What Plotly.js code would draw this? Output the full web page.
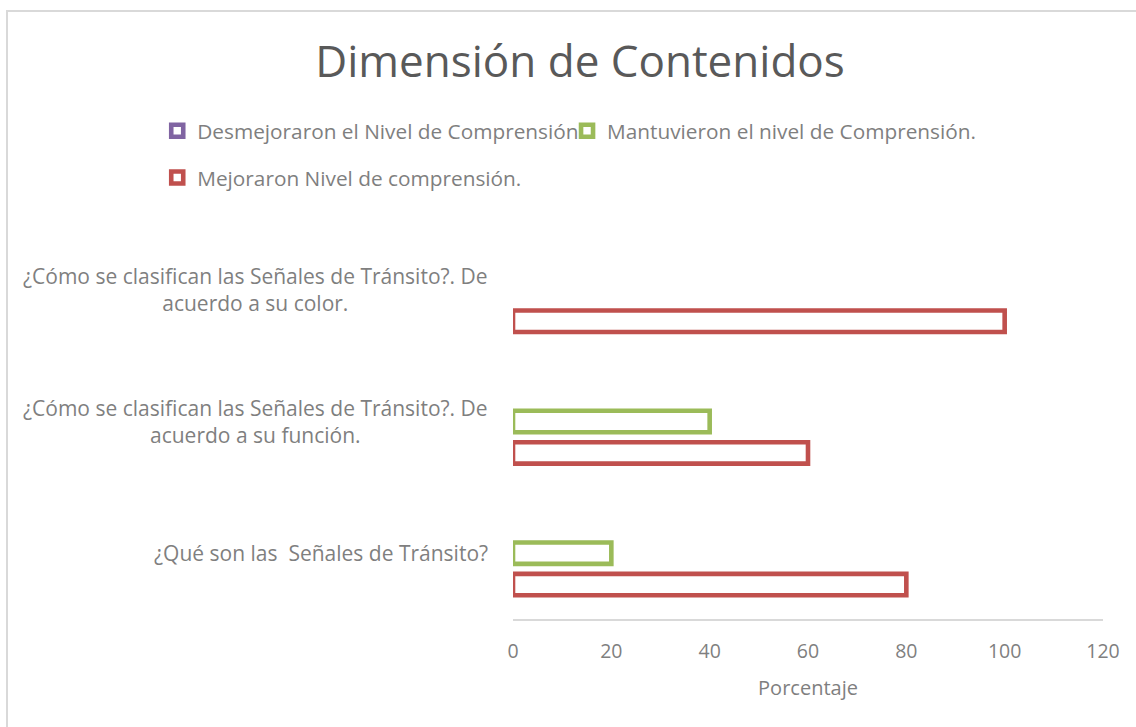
<!DOCTYPE html>
<html>
<head>
<meta charset="utf-8">
<script src="https://cdn.plot.ly/plotly-3.0.1.min.js"></script>
<style>
  html, body { margin: 0; padding: 0; background: #ffffff; }
  #chart { position: absolute; left: 0; top: 0; width: 1136px; height: 727px; }
  #frame { position: absolute; left: 6px; top: 10px; width: 1200px; height: 800px;
           border: 2px solid #d9d9d9; pointer-events: none; box-sizing: border-box; }
</style>
</head>
<body>
<div id="chart"></div>
<div id="frame"></div>
<script>
// ---- data ----
const categories = [
  "¿Qué son las  Señales de Tránsito?",
  "¿Cómo se clasifican las Señales de Tránsito?. De<br>acuerdo a su función.",
  "¿Cómo se clasifican las Señales de Tránsito?. De<br>acuerdo a su color."
];
const seriesNames = [
  "Desmejoraron el Nivel de Comprensión",
  "Mantuvieron el nivel de Comprensión.",
  "Mejoraron Nivel de comprensión."
];
const desmejoraron = [0, 0, 0];
const mantuvieron = [20, 40, 0];
const mejoraron = [80, 60, 100];
const xTicks = [0, 20, 40, 60, 80, 100, 120];

const FONT = '"Open Sans", "Noto Sans", sans-serif';
const GREY = '#7f7f7f';
const LW = 4.6;

function barTrace(name, values, color, legendId) {
  return {
    type: 'bar', orientation: 'h', name: name,
    // zero-length bars are not drawn (as in the original)
    x: values.map(v => (v === 0 ? null : v)), y: categories,
    marker: { color: '#ffffff', line: { color: color, width: LW } },
    legend: legendId, hoverinfo: 'x+name'
  };
}

// order: first trace is drawn lowest inside each group
const data = [
  barTrace(seriesNames[2], mejoraron, '#C0504D', 'legend3'),
  barTrace(seriesNames[1], mantuvieron, '#9BBB59', 'legend2'),
  barTrace(seriesNames[0], desmejoraron, '#8064A2', 'legend')
];

const legendFont = { family: FONT, size: 20.8, color: GREY };
function leg(x, y) {
  return { x: x, y: y, xanchor: 'left', yanchor: 'middle', orientation: 'h',
           bgcolor: 'rgba(0,0,0,0)', borderwidth: 0, font: legendFont };
}

const annotations = categories.map(c => ({
  text: c, xref: 'paper', yref: 'y', x: -0.039, y: c,
  xanchor: 'right', yanchor: 'middle', align: 'center', showarrow: false,
  font: { family: FONT, size: 21, color: GREY }
}));

const layout = {
  width: 1136, height: 727,
  paper_bgcolor: 'rgba(0,0,0,0)', plot_bgcolor: 'rgba(0,0,0,0)',
  margin: { l: 513, r: 33, t: 224, b: 108, pad: 0 },
  barmode: 'group', bargap: 0.284, bargroupgap: 0.32,
  title: {
    text: 'Dimensión de Contenidos',
    font: { family: FONT, size: 44, color: '#595959' },
    xref: 'container', yref: 'container', x: 0.5106, y: 1 - 62 / 727,
    xanchor: 'center', yanchor: 'middle'
  },
  xaxis: {
    range: [0, 120], tickvals: xTicks, ticktext: xTicks.map(String),
    showgrid: false, zeroline: false, showline: true, linecolor: '#d9d9d9', linewidth: 1.5,
    ticks: '', ticklabelstandoff: 14,
    tickfont: { family: FONT, size: 19.5, color: GREY },
    title: { text: 'Porcentaje', font: { family: FONT, size: 20, color: GREY }, standoff: 18 },
    fixedrange: true
  },
  yaxis: {
    type: 'category', categoryorder: 'array', categoryarray: categories,
    range: [-0.5, 2.5], showticklabels: false, showgrid: false, zeroline: false,
    showline: false, ticks: '', fixedrange: true
  },
  legend: leg(-0.603, 1.235),
  legend2: leg(0.0916, 1.235),
  legend3: leg(-0.603, 1.1165),
  annotations: annotations,
  showlegend: true
};

Plotly.newPlot('chart', data, layout, { displayModeBar: false, staticPlot: true });
</script>
</body>
</html>
